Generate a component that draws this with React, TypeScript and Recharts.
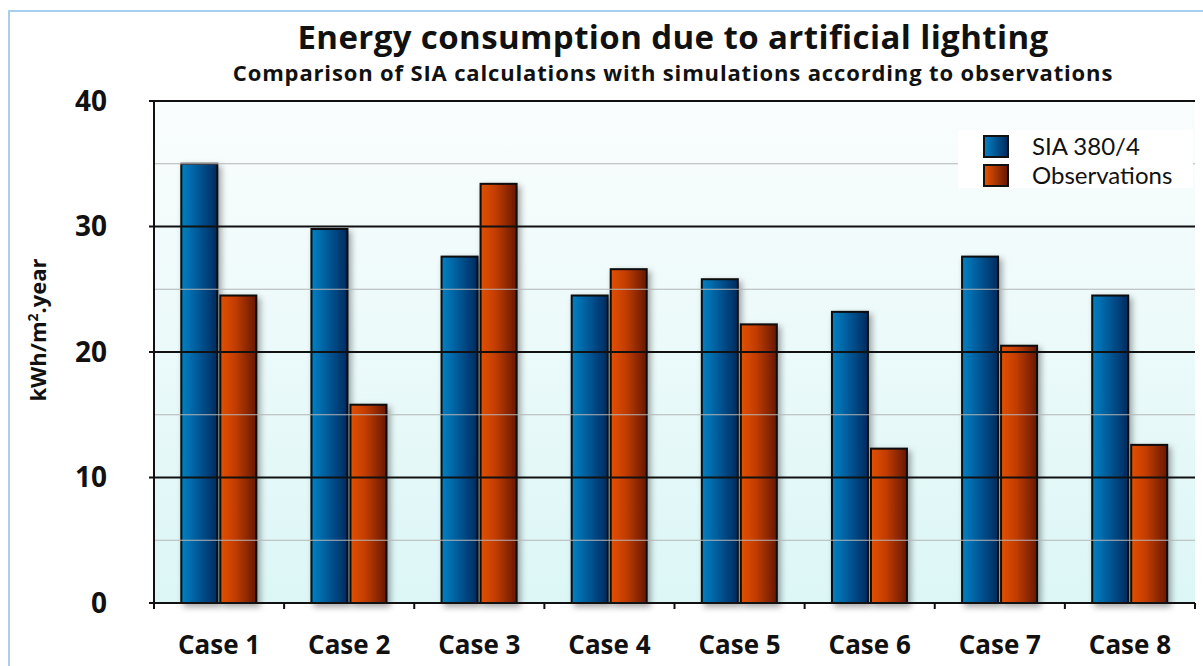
import React from "react";
import { Bar, BarChart, ReferenceLine, ReferenceArea, XAxis, YAxis } from "recharts";

const cases = ["Case 1", "Case 2", "Case 3", "Case 4", "Case 5", "Case 6", "Case 7", "Case 8"];
const siaValues = [35.0, 29.8, 27.6, 24.5, 25.8, 23.2, 27.6, 24.5];
const obsValues = [24.5, 15.8, 33.4, 26.6, 22.2, 12.3, 20.5, 12.6];
const yTicks = [0, 10, 20, 30, 40];
const majorGrid = [10, 20, 30, 40];
const minorGrid = [5, 15, 25, 35];

const series = [
  { key: "sia", name: "SIA 380/4", grad: "gradBlue", swatch: "linear-gradient(to right, #0580c2, #002c62)" },
  { key: "obs", name: "Observations", grad: "gradOrange", swatch: "linear-gradient(to right, #e45200, #6a1904)" },
];

const data = cases.map((c, i) => ({ name: c, sia: siaValues[i], obs: obsValues[i] }));

const font = "'Open Sans', sans-serif";

function ShadowBar(props: any) {
  const { x, y, width, height, fill } = props;
  if (!height || height <= 0) return null;
  return (
    <rect
      x={x}
      y={y}
      width={width}
      height={height}
      fill={fill}
      stroke="#0a0a0a"
      strokeWidth={2}
      filter="url(#barShadow)"
    />
  );
}

function CaseTick(props: any) {
  const { x, y, payload, index } = props;
  const half = payload && payload.offset ? payload.offset : 65;
  return (
    <g>
      <line x1={x - half} x2={x - half} y1={y - 33} y2={y - 27} stroke="#111" strokeWidth={2} />
      {index === cases.length - 1 && (
        <line x1={x + half} x2={x + half} y1={y - 33} y2={y - 27} stroke="#111" strokeWidth={2} />
      )}
      <text x={x} y={y} dy="0.71em" textAnchor="middle" fontFamily={font} fontWeight={700} fontSize={26} fill="#111">
        {payload.value}
      </text>
    </g>
  );
}

export default function App() {
  return (
    <div style={{ position: "absolute", left: 0, top: 0, width: 1203, height: 666, background: "#fff", overflow: "hidden" }}>
      <div style={{ position: "absolute", left: 8, top: 10, width: 1300, height: 700, borderLeft: "2px solid #a9cfee", borderTop: "2px solid #a9cfee" }} />
      <div style={{ position: "absolute", left: 0, width: 1346, top: 13, textAlign: "center", fontFamily: font, fontWeight: 700, fontSize: 33, letterSpacing: 0.4, color: "#111", lineHeight: "48px" }}>
        Energy consumption due to artificial lighting
      </div>
      <div style={{ position: "absolute", left: 0, width: 1346, top: 57, textAlign: "center", fontFamily: font, fontWeight: 700, fontSize: 22, letterSpacing: 0.85, color: "#111", lineHeight: "30px" }}>
        Comparison of SIA calculations with simulations according to observations
      </div>
      <div
        style={{
          position: "absolute",
          left: 37,
          top: 330,
          transform: "translate(-50%, -50%) rotate(-90deg)",
          whiteSpace: "nowrap",
          fontFamily: font,
          fontWeight: 700,
          fontSize: 22,
          color: "#111",
        }}
      >
        kWh/m<sup style={{ fontSize: 14 }}>2</sup>.year
      </div>
      <div style={{ position: "absolute", left: 0, top: 0 }}>
        <BarChart
          width={1203}
          height={666}
          data={data}
          margin={{ top: 101, right: 8, bottom: 0, left: 0 }}
          barCategoryGap="21%"
          barGap={3}
        >
          <defs>
            <linearGradient id="gradBlue" x1="0" y1="0" x2="1" y2="0">
              <stop offset="0%" stopColor="#0582c4" />
              <stop offset="45%" stopColor="#005a99" />
              <stop offset="100%" stopColor="#002a5e" />
            </linearGradient>
            <linearGradient id="gradOrange" x1="0" y1="0" x2="1" y2="0">
              <stop offset="0%" stopColor="#e35000" />
              <stop offset="40%" stopColor="#c43e02" />
              <stop offset="100%" stopColor="#661804" />
            </linearGradient>
            <linearGradient id="plotBg" x1="0" y1="0" x2="0" y2="1">
              <stop offset="0%" stopColor="#fafdfd" />
              <stop offset="100%" stopColor="#dcf6f6" />
            </linearGradient>
            <filter id="barShadow" x="-30%" y="-10%" width="160%" height="130%">
              <feDropShadow dx={3} dy={3} stdDeviation={3} floodColor="#000" floodOpacity={0.35} />
            </filter>
          </defs>
          <ReferenceArea y1={0} y2={40} fill="url(#plotBg)" fillOpacity={1} stroke="none" ifOverflow="visible" />
          {minorGrid.map((v) => (
            <ReferenceLine key={"m" + v} y={v} stroke="#b4b4b4" strokeWidth={1.2} />
          ))}
          {majorGrid.map((v) => (
            <ReferenceLine key={"M" + v} y={v} stroke="#111" strokeWidth={2} />
          ))}
          <XAxis
            dataKey="name"
            height={63}
            axisLine={{ stroke: "#111", strokeWidth: 2 }}
            tickLine={false}
            tickMargin={27}
            tick={<CaseTick />}
            interval={0}
          />
          <YAxis
            width={154}
            domain={[0, 40]}
            ticks={yTicks}
            interval={0}
            axisLine={{ stroke: "#111", strokeWidth: 2 }}
            tickLine={{ stroke: "#111", strokeWidth: 2 }}
            tickSize={5}
            tickMargin={42}
            tick={{ fontFamily: font, fontWeight: 700, fontSize: 28, fill: "#111" }}
          />
          {series.map((s) => (
            <Bar
              key={s.key}
              dataKey={s.key}
              name={s.name}
              fill={`url(#${s.grad})`}
              shape={<ShadowBar />}
              isAnimationActive={false}
            />
          ))}
        </BarChart>
      </div>
      <div style={{ position: "absolute", left: 958, top: 130, width: 235, height: 58, background: "#fff", fontFamily: "Lato, sans-serif" }}>
        {series.map((s, i) => (
          <div key={s.key} style={{ position: "absolute", left: 25, top: 4 + i * 29, display: "flex", alignItems: "center" }}>
            <div style={{ width: 26, height: 23, border: "2px solid #111", boxSizing: "border-box", background: s.swatch }} />
            <span style={{ marginLeft: 23, fontSize: 24, color: "#111", lineHeight: "24px" }}>{s.name}</span>
          </div>
        ))}
      </div>
    </div>
  );
}
